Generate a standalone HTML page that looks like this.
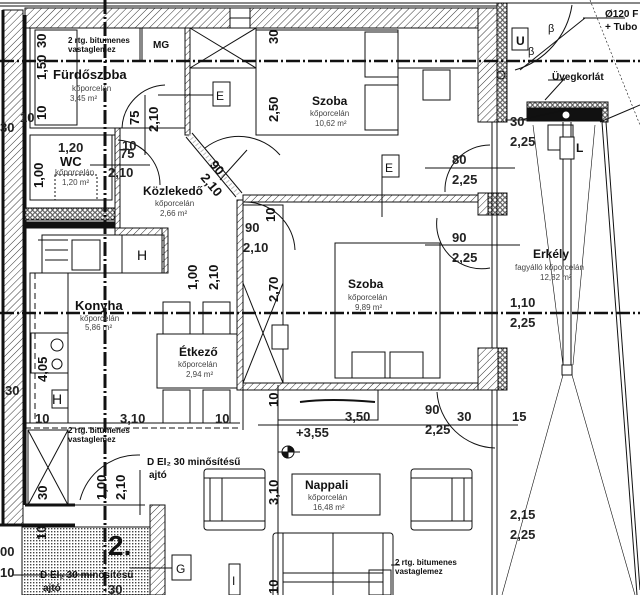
<!DOCTYPE html>
<html><head><meta charset="utf-8"><style>
html,body{margin:0;padding:0;background:#fff;}
svg{display:block;}
text{font-family:"Liberation Sans",Arial,sans-serif;fill:#111;}
.b{font-weight:bold;}
.s{font-size:8px;fill:#444;}
.d{font-size:13px;font-weight:bold;fill:#222;}
</style></head><body>
<svg width="640" height="595" viewBox="0 0 640 595" xmlns="http://www.w3.org/2000/svg">
<defs>
<pattern id="h" width="5" height="5" patternUnits="userSpaceOnUse" patternTransform="rotate(45)"><rect width="5" height="5" fill="#fff"/><line x1="0" y1="0" x2="0" y2="5" stroke="#333" stroke-width="1"/></pattern>
<pattern id="dt" width="3" height="3" patternUnits="userSpaceOnUse"><rect width="3" height="3" fill="#fff"/><rect width="1.4" height="1.4" fill="#444"/></pattern>
<pattern id="ins" width="5" height="5" patternUnits="userSpaceOnUse"><rect width="5" height="5" fill="#fff"/><circle cx="2.5" cy="2.5" r="1.8" fill="none" stroke="#222" stroke-width="0.9"/></pattern>
</defs>
<g stroke="#111" fill="none" stroke-width="1">
<line x1="0" y1="3" x2="640" y2="3"/><line x1="0" y1="6" x2="500" y2="6"/>
<rect x="25" y="8" width="455" height="20" fill="url(#h)"/>
<rect x="230" y="8" width="20" height="20" fill="#fff"/><line x1="230" y1="18" x2="250" y2="18"/>
<rect x="3" y="10" width="20" height="515" fill="url(#h)"/>
<line x1="3" y1="10" x2="3" y2="525" stroke-width="3"/>
<line x1="25" y1="15" x2="25" y2="505" stroke-width="3"/>
<line x1="25" y1="505" x2="75" y2="505" stroke-width="3"/>
<line x1="0" y1="525" x2="75" y2="525" stroke-width="3"/>
<rect x="30" y="28" width="155" height="100"/>
<rect x="185" y="28" width="5" height="107" fill="url(#h)"/>
<line x1="140" y1="28" x2="140" y2="60"/>
<rect x="35" y="30" width="42" height="95"/>
<rect x="115" y="128" width="5" height="100" fill="url(#h)"/>
<line x1="30" y1="135" x2="115" y2="135"/>
<rect x="30" y="135" width="82" height="65"/>
<rect x="55" y="175" width="42" height="25" stroke-dasharray="2,2"/>
<rect x="25" y="208" width="90" height="12" fill="url(#ins)"/>
<rect x="25" y="222" width="90" height="6" fill="#111"/>
<path d="M165 85 A45 45 0 0 0 122 128"/><line x1="145" y1="95" x2="145" y2="155"/>
<path d="M118 140 A45 45 0 0 1 160 185"/><line x1="90" y1="165" x2="150" y2="165"/>
<path d="M186 137 L236 197" stroke-width="1"/><path d="M192 133 L242 193" stroke-width="1"/>
<path d="M189 135 L239 195" stroke-width="4" stroke="#bbb" stroke-dasharray="1,3"/>
<path d="M205 148 A55 55 0 0 1 280 155"/><line x1="220" y1="180" x2="247" y2="150"/>
<line x1="142" y1="28" x2="142" y2="60"/>
<rect x="190" y="28" width="66" height="40"/><line x1="190" y1="28" x2="256" y2="68"/><line x1="256" y1="28" x2="190" y2="68"/>
<rect x="213" y="82" width="17" height="24" fill="#fff"/>
<line x1="158" y1="95" x2="213" y2="95"/>
<rect x="115" y="228" width="53" height="7" fill="url(#h)"/>
<rect x="162" y="228" width="6" height="45" fill="url(#h)"/>
<rect x="122" y="235" width="42" height="38"/>
<rect x="42" y="235" width="80" height="38"/>
<rect x="72" y="240" width="28" height="30"/>
<line x1="38" y1="240" x2="68" y2="240"/><line x1="45" y1="250" x2="68" y2="250"/><line x1="45" y1="260" x2="68" y2="260"/>
<rect x="30" y="273" width="38" height="150"/>
<line x1="35" y1="273" x2="35" y2="423" stroke-dasharray="6,4"/>
<rect x="31" y="333" width="37" height="40"/>
<circle cx="57" cy="345" r="6"/><circle cx="57" cy="364" r="5"/>
<rect x="52" y="390" width="16" height="18" fill="#fff"/>
<rect x="28" y="430" width="40" height="75"/><line x1="28" y1="430" x2="68" y2="505"/><line x1="68" y1="430" x2="28" y2="505"/>
<line x1="25" y1="428" x2="240" y2="428" stroke-dasharray="6,3"/>
<line x1="25" y1="423" x2="240" y2="423"/>
<rect x="237" y="200" width="6" height="190" fill="url(#h)"/>
<rect x="243" y="205" width="40" height="178"/>
<line x1="243" y1="283" x2="283" y2="383"/><line x1="283" y1="283" x2="243" y2="383"/>
<rect x="272" y="325" width="16" height="24" fill="#fff"/>
<path d="M243 202 A50 50 0 0 1 295 250"/>
<rect x="157" y="334" width="80" height="54"/>
<rect x="163" y="302" width="27" height="32"/><rect x="203" y="302" width="27" height="32"/>
<rect x="163" y="390" width="27" height="33"/><rect x="203" y="390" width="27" height="33"/>
<rect x="256" y="30" width="142" height="105"/>
<rect x="365" y="32" width="33" height="45"/><rect x="365" y="85" width="33" height="45"/>
<line x1="398" y1="28" x2="478" y2="28"/><line x1="398" y1="68" x2="478" y2="68"/>
<rect x="423" y="70" width="27" height="30"/>
<rect x="478" y="8" width="19" height="114" fill="url(#h)"/>
<rect x="497" y="3" width="10" height="119" fill="url(#ins)"/>
<rect x="512" y="28" width="16" height="22" fill="#fff"/>
<circle cx="501" cy="75" r="4"/>
<rect x="243" y="195" width="235" height="7" fill="url(#h)"/>
<rect x="478" y="193" width="10" height="22" fill="url(#h)"/><rect x="488" y="193" width="19" height="22" fill="url(#ins)"/>
<line x1="382" y1="155" x2="382" y2="217"/><rect x="382" y="155" width="17" height="22" fill="#fff"/>
<path d="M490 145 A45 45 0 0 0 445 192"/>
<line x1="425" y1="168" x2="515" y2="168"/>
<line x1="492" y1="122" x2="492" y2="595"/><line x1="497" y1="122" x2="497" y2="595"/>
<rect x="335" y="243" width="105" height="135"/>
<rect x="352" y="352" width="33" height="26"/><rect x="390" y="352" width="33" height="26"/>
<rect x="243" y="383" width="235" height="7" fill="url(#h)"/>
<rect x="478" y="348" width="20" height="42" fill="url(#h)"/><rect x="498" y="348" width="9" height="42" fill="url(#ins)"/>
<path d="M437 218 A45 45 0 0 0 490 268"/><line x1="425" y1="245" x2="520" y2="245"/>
<rect x="278" y="390" width="100" height="30"/><path d="M300 402 Q330 398 375 402" stroke-width="2"/>
<path d="M437 392 A60 60 0 0 0 495 448"/>
<line x1="258" y1="425" x2="518" y2="425"/>
<rect x="527" y="102" width="81" height="7" fill="url(#ins)"/>
<rect x="527" y="108" width="76" height="13" fill="#111"/>
<rect x="602" y="108" width="6" height="14" fill="url(#ins)"/>
<circle cx="566" cy="115" r="4" fill="#fff"/>
<line x1="563" y1="122" x2="563" y2="370"/><line x1="571" y1="122" x2="571" y2="370"/>
<rect x="562" y="365" width="10" height="10" fill="#fff"/>
<line x1="505" y1="120" x2="538" y2="120"/><line x1="520" y1="120" x2="565" y2="110" />
<rect x="548" y="125" width="25" height="25"/><rect x="560" y="137" width="14" height="22" fill="#fff"/>
<line x1="533" y1="125" x2="563" y2="365" stroke-width="0.6"/><line x1="595" y1="125" x2="573" y2="365" stroke-width="0.6"/>
<line x1="563" y1="375" x2="502" y2="595" stroke-width="0.6"/><line x1="572" y1="375" x2="635" y2="595" stroke-width="0.6"/>
<line x1="602" y1="122" x2="637" y2="595"/><line x1="606" y1="122" x2="640" y2="590"/>
<line x1="600" y1="122" x2="640" y2="105"/>
<line x1="590" y1="0" x2="640" y2="125" stroke-dasharray="2,2" stroke-width="0.6"/>
<path d="M572 5 A80 80 0 0 1 515 70"/><line x1="520" y1="70" x2="585" y2="18"/>
<line x1="583" y1="18" x2="625" y2="18"/>
<line x1="548" y1="80" x2="565" y2="80"/>
<line x1="545" y1="100" x2="565" y2="78"/>
<line x1="278" y1="385" x2="278" y2="595"/>
<line x1="243" y1="390" x2="243" y2="430"/>
<rect x="292" y="474" width="88" height="41"/>
<rect x="204" y="469" width="61" height="61" rx="3"/><line x1="204" y1="478" x2="265" y2="478"/><line x1="204" y1="521" x2="265" y2="521"/><line x1="210" y1="478" x2="210" y2="521"/><line x1="222" y1="478" x2="222" y2="521"/>
<rect x="411" y="469" width="61" height="61" rx="3"/><line x1="411" y1="478" x2="472" y2="478"/><line x1="411" y1="521" x2="472" y2="521"/><line x1="452" y1="478" x2="452" y2="521"/><line x1="464" y1="478" x2="464" y2="521"/>
<rect x="273" y="533" width="120" height="65" rx="3"/><line x1="283" y1="533" x2="283" y2="595"/><line x1="383" y1="533" x2="383" y2="595"/><line x1="333" y1="533" x2="333" y2="595"/><line x1="283" y1="573" x2="383" y2="573"/><line x1="283" y1="582" x2="383" y2="582"/>
<rect x="369" y="570" width="22" height="25"/><line x1="391" y1="565" x2="400" y2="565"/>
<circle cx="288" cy="452" r="6"/><path d="M288 446 A6 6 0 0 1 294 452 L288 452Z M288 458 A6 6 0 0 1 282 452 L288 452Z" fill="#111"/>
<line x1="278" y1="452" x2="300" y2="452"/>
<path d="M80 500 A60 60 0 0 1 140 455"/><line x1="140" y1="470" x2="140" y2="515"/>
<rect x="22" y="527" width="143" height="68" fill="url(#dt)"/>
<rect x="150" y="505" width="15" height="90" fill="url(#h)"/>
<line x1="75" y1="505" x2="145" y2="505"/>
<rect x="172" y="555" width="19" height="25" fill="#fff"/><line x1="130" y1="568" x2="172" y2="568"/>
<rect x="229" y="564" width="11" height="31" fill="#fff"/>
<line x1="12" y1="575" x2="95" y2="575"/>
<line x1="105" y1="0" x2="105" y2="595" stroke-width="3" stroke-dasharray="14,3,2,3"/>
</g>
<line x1="0" y1="61" x2="640" y2="61" stroke="#111" stroke-width="2.5" stroke-dasharray="14,3,2,3"/>
<line x1="0" y1="313" x2="640" y2="313" stroke="#111" stroke-width="2.5" stroke-dasharray="14,3,2,3"/>
<text x="68" y="43" class="b" font-size="8">2 rtg. bitumenes</text>
<text x="68" y="52" class="b" font-size="8">vastaglemez</text>
<text x="153" y="48" class="b" font-size="10">MG</text>
<text x="53" y="79" font-size="13" class="b" fill="#333">Fürdőszoba</text>
<text x="72" y="91" class="s">kőporcelán</text><text x="70" y="101" class="s">3,45 m²</text>
<text x="216" y="100" font-size="12">E</text>
<text x="60" y="166" font-size="13" class="b">WC</text>
<text x="55" y="175" class="s">kőporcelán</text><text x="62" y="185" class="s">1,20 m²</text>
<text x="58" y="152" class="d">1,20</text><text x="122" y="150" class="d">10</text><text x="120" y="158" class="d">75</text><text x="108" y="177" class="d">2,10</text>
<text x="143" y="195" font-size="12" class="b">Közlekedő</text>
<text x="155" y="206" class="s">kőporcelán</text><text x="160" y="216" class="s">2,66 m²</text>
<text x="137" y="260" font-size="14">H</text>
<text x="75" y="310" font-size="13" class="b" fill="#333">Konyha</text>
<text x="80" y="321" class="s">kőporcelán</text><text x="85" y="330" class="s">5,86 m²</text>
<text x="179" y="356" font-size="12" class="b">Étkező</text>
<text x="178" y="367" class="s">kőporcelán</text><text x="186" y="377" class="s">2,94 m²</text>
<text x="52" y="404" font-size="14">H</text>
<text x="5" y="395" class="d">30</text><text x="35" y="423" class="d">10</text><text x="120" y="423" class="d">3,10</text><text x="215" y="423" class="d">10</text>
<text x="68" y="433" class="b" font-size="8">2 rtg. bitumenes</text><text x="68" y="442" class="b" font-size="8">vastaglemez</text>
<text x="147" y="465" class="b" font-size="10">D EI₂ 30 minősítésű</text><text x="149" y="478" class="b" font-size="10">ajtó</text>
<text x="108" y="555" class="b" font-size="28">2.</text>
<text x="40" y="578" class="b" font-size="10">D EI₂ 30 minősítésű</text><text x="43" y="591" class="b" font-size="10">ajtó</text>
<text x="176" y="573" font-size="12">G</text><text x="232" y="585" font-size="12">I</text>
<text x="296" y="437" class="d">+3,55</text>
<text x="305" y="489" font-size="12" class="b">Nappali</text>
<text x="308" y="500" class="s">kőporcelán</text><text x="313" y="510" class="s">16,48 m²</text>
<text x="395" y="565" class="b" font-size="8">2 rtg. bitumenes</text><text x="395" y="574" class="b" font-size="8">vastaglemez</text>
<text x="312" y="105" font-size="12" class="b">Szoba</text>
<text x="310" y="116" class="s">kőporcelán</text><text x="315" y="126" class="s">10,62 m²</text>
<text x="385" y="172" font-size="12">E</text>
<text x="452" y="164" class="d">80</text><text x="452" y="184" class="d">2,25</text>
<text x="245" y="232" class="d">90</text><text x="243" y="252" class="d">2,10</text>
<text x="348" y="288" font-size="12" class="b">Szoba</text>
<text x="348" y="300" class="s">kőporcelán</text><text x="355" y="310" class="s">9,89 m²</text>
<text x="452" y="242" class="d">90</text><text x="452" y="262" class="d">2,25</text>
<text x="533" y="258" font-size="12" class="b">Erkély</text>
<text x="515" y="270" class="s">fagyálló kőporcelán</text><text x="540" y="280" class="s">12,82 m²</text>
<text x="510" y="307" class="d">1,10</text><text x="510" y="327" class="d">2,25</text>
<text x="345" y="421" class="d">3,50</text>
<text x="425" y="414" class="d">90</text><text x="425" y="434" class="d">2,25</text>
<text x="457" y="421" class="d">30</text><text x="512" y="421" class="d">15</text>
<text x="510" y="519" class="d">2,15</text><text x="510" y="539" class="d">2,25</text>
<text x="510" y="126" class="d">30</text><text x="510" y="146" class="d">2,25</text>
<text x="516" y="45" font-size="12" class="b">U</text>
<text x="576" y="152" font-size="12" class="b">L</text>
<text x="552" y="80" class="b" font-size="10">Üvegkorlát</text>
<text x="605" y="17" class="b" font-size="10">Ø120 F</text><text x="605" y="30" class="b" font-size="10">+ Tubo</text>
<text x="548" y="32" font-size="11" fill="#666">β</text><text x="528" y="55" font-size="11" fill="#666">β</text>
<g font-size="13" font-weight="bold" fill="#222">
<text transform="translate(46,48) rotate(-90)">30</text>
<text transform="translate(46,80) rotate(-90)">1,50</text>
<text transform="translate(46,120) rotate(-90)">10</text>
<text transform="translate(139,125) rotate(-90)">75</text>
<text transform="translate(158,132) rotate(-90)">2,10</text>
<text transform="translate(43,188) rotate(-90)">1,00</text>
<text transform="translate(278,44) rotate(-90)">30</text>
<text transform="translate(278,122) rotate(-90)">2,50</text>
<text transform="translate(209,165) rotate(50)">90</text>
<text transform="translate(200,178) rotate(50)">2,10</text>
<text transform="translate(275,222) rotate(-90)">10</text>
<text transform="translate(197,290) rotate(-90)">1,00</text>
<text transform="translate(218,290) rotate(-90)">2,10</text>
<text transform="translate(278,302) rotate(-90)">2,70</text>
<text transform="translate(47,382) rotate(-90)">4,05</text>
<text transform="translate(278,407) rotate(-90)">10</text>
<text transform="translate(47,500) rotate(-90)">30</text>
<text transform="translate(106,500) rotate(-90)">1,00</text>
<text transform="translate(125,500) rotate(-90)">2,10</text>
<text transform="translate(46,540) rotate(-90)">10</text>
<text transform="translate(278,505) rotate(-90)">3,10</text>
<text transform="translate(278,594) rotate(-90)">10</text>
</g>
<text x="0" y="132" class="d">30</text><text x="20" y="122" class="d">10</text>
<text x="0" y="556" class="d">00</text><text x="0" y="577" class="d">10</text>
<text x="108" y="594" class="d">30</text>
</svg>
</body></html>
